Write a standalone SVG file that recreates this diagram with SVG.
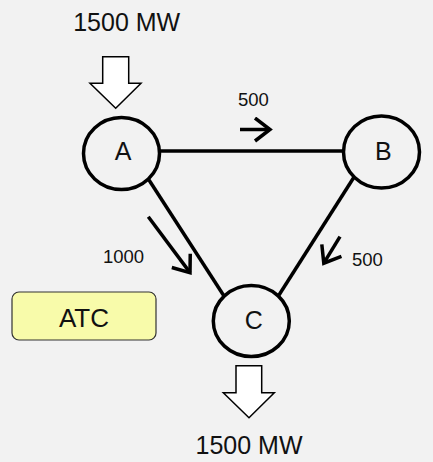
<svg xmlns="http://www.w3.org/2000/svg" width="433" height="462" viewBox="0 0 433 462">
  <style>
    text { font-family: "Liberation Sans", Arial, sans-serif; fill: #111; }
    .node { fill: #f2f2f2; stroke: #000; stroke-width: 3.5; }
    .edge { stroke: #000; stroke-width: 3.5; fill: none; }
    .flow { stroke: #000; stroke-width: 3.5; fill: none; marker-end: url(#head); }
    .block { fill: #fff; stroke: #000; stroke-width: 1.5; stroke-linejoin: miter; }
    .big { font-size: 25px; }
    .small { font-size: 18.5px; }
  </style>
  <defs>
    <marker id="head" markerUnits="userSpaceOnUse" viewBox="-18 -13 22 26" refX="0" refY="0" markerWidth="22" markerHeight="26" orient="auto">
      <path d="M-15,-11.5 L0,0 L-15,11.5" fill="none" stroke="#000" stroke-width="3.5" stroke-linejoin="miter"/>
    </marker>
  </defs>
  <rect x="0" y="0" width="433" height="462" fill="#f2f2f2"/>

  <g id="connectors">
    <line class="edge" x1="159" y1="151" x2="343" y2="151"/>
    <line class="edge" x1="149" y1="180" x2="224" y2="296"/>
    <line class="edge" x1="356" y1="174" x2="279" y2="295"/>
    <line class="flow" x1="240" y1="129.5" x2="270" y2="129.5"/>
    <line class="flow" x1="148.3" y1="216.7" x2="190" y2="272.6"/>
    <line class="flow" x1="340" y1="236.7" x2="323.8" y2="263.2"/>
  </g>

  <g id="labels">
    <text class="small" x="238" y="106">500</text>
    <text class="small" x="103" y="262.5" font-size="19px">1000</text>
    <text class="small" x="352" y="266">500</text>
  </g>

  <g id="input">
    <path class="block" d="M102.7,56.7 H128.7 V83.3 H141 L115.7,108.3 L90,83.3 H102.7 Z"/>
    <text class="big" x="126.7" y="31" text-anchor="middle">1500 MW</text>
  </g>

  <g id="output">
    <path class="block" d="M236,365.7 H261.7 V392.7 H274.3 L249,417.7 L223.3,392.7 H236 Z"/>
    <text class="big" x="249" y="454" text-anchor="middle">1500 MW</text>
  </g>

  <g id="node-A">
    <ellipse class="node" cx="121.5" cy="153.5" rx="38" ry="36"/>
    <text class="big" x="123" y="160" text-anchor="middle">A</text>
  </g>
  <g id="node-B">
    <ellipse class="node" cx="381.5" cy="152" rx="38" ry="36"/>
    <text class="big" x="383.3" y="160" text-anchor="middle">B</text>
  </g>
  <g id="node-C">
    <ellipse class="node" cx="251.3" cy="321" rx="38" ry="35.5"/>
    <text class="big" x="253.8" y="329" text-anchor="middle">C</text>
  </g>

  <g id="atc">
    <rect x="12" y="292" width="144" height="48" rx="7" ry="7" fill="#f8fbaa" stroke="#333" stroke-width="1.2"/>
    <text x="84" y="327" text-anchor="middle" font-size="26px">ATC</text>
  </g>
</svg>
